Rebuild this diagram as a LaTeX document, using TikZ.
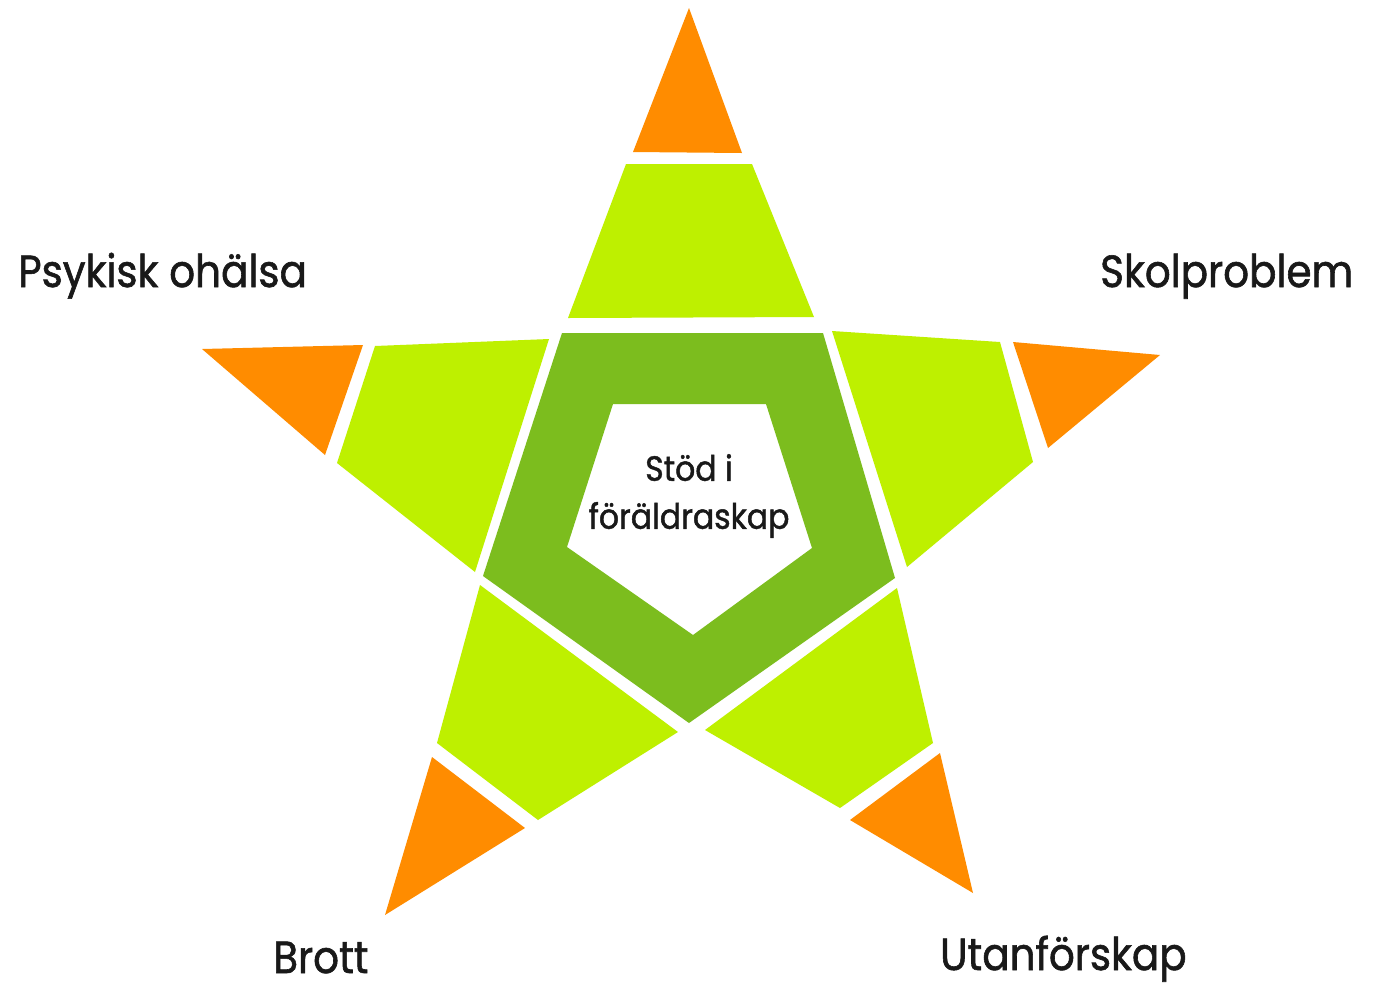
\documentclass[tikz,border=0pt]{standalone}
\usepackage{fontspec}
\newfontfamily\labfont[FakeStretch=0.9,FakeBold=1.3]{Poppins}
\definecolor{tiporange}{RGB}{255,140,0}
\definecolor{armgreen}{RGB}{190,240,0}
\definecolor{ringgreen}{RGB}{124,189,30}
\tikzset{
  tip/.style={fill=tiporange},
  arm/.style={fill=armgreen},
  ring/.style={fill=ringgreen, even odd rule},
  biglabel/.style={font=\labfont\fontsize{45}{50}\selectfont, inner sep=0pt, anchor=base west, text=black!90},
  centerlabel/.style={font=\labfont\fontsize{35}{48}\selectfont, inner sep=0pt, align=center, text=black!90}
}
\begin{document}
\begin{tikzpicture}[x=1pt,y=-1pt]
\useasboundingbox[fill=white] (0,0) rectangle (1374,989);
% centre ring
\fill[ring] (562,333) -- (823,333) -- (895,578) -- (689,723) -- (483,576) -- cycle
            (613,404) -- (766,404) -- (812,548) -- (693,635) -- (567,547) -- cycle;
% top arm
\fill[arm] (626,164) -- (752,164) -- (814,317) -- (568,318) -- cycle;
\fill[tip] (689,8) -- (742,153) -- (633,152) -- cycle;
% left arm
\fill[arm] (375,346) -- (549,339) -- (475,572) -- (337,463) -- cycle;
\fill[tip] (202,349) -- (363,345) -- (325,455) -- cycle;
% right arm
\fill[arm] (832,331) -- (1000,342) -- (1033,462) -- (907,567) -- cycle;
\fill[tip] (1013,342) -- (1160,355) -- (1048,448) -- cycle;
% bottom-left arm
\fill[arm] (480,585) -- (678,732) -- (538,820) -- (437,743) -- cycle;
\fill[tip] (432,757) -- (525,828) -- (385,915) -- cycle;
% bottom-right arm
\fill[arm] (897,588) -- (933,743) -- (840,808) -- (705,730) -- cycle;
\fill[tip] (940,753) -- (973,893) -- (850,820) -- cycle;
% labels
\node[biglabel] (psyk) at (18,287) {Psykisk ohälsa};
\node[biglabel] (skol) at (1100,287) {Skolproblem};
\node[biglabel] (brott) at (273,973) {Brott};
\node[biglabel] (utan) at (940,970) {Utanförskap};
\node[centerlabel, anchor=center] (stod) at (689,496) {Stöd i\\föräldraskap};
\end{tikzpicture}
\end{document}
